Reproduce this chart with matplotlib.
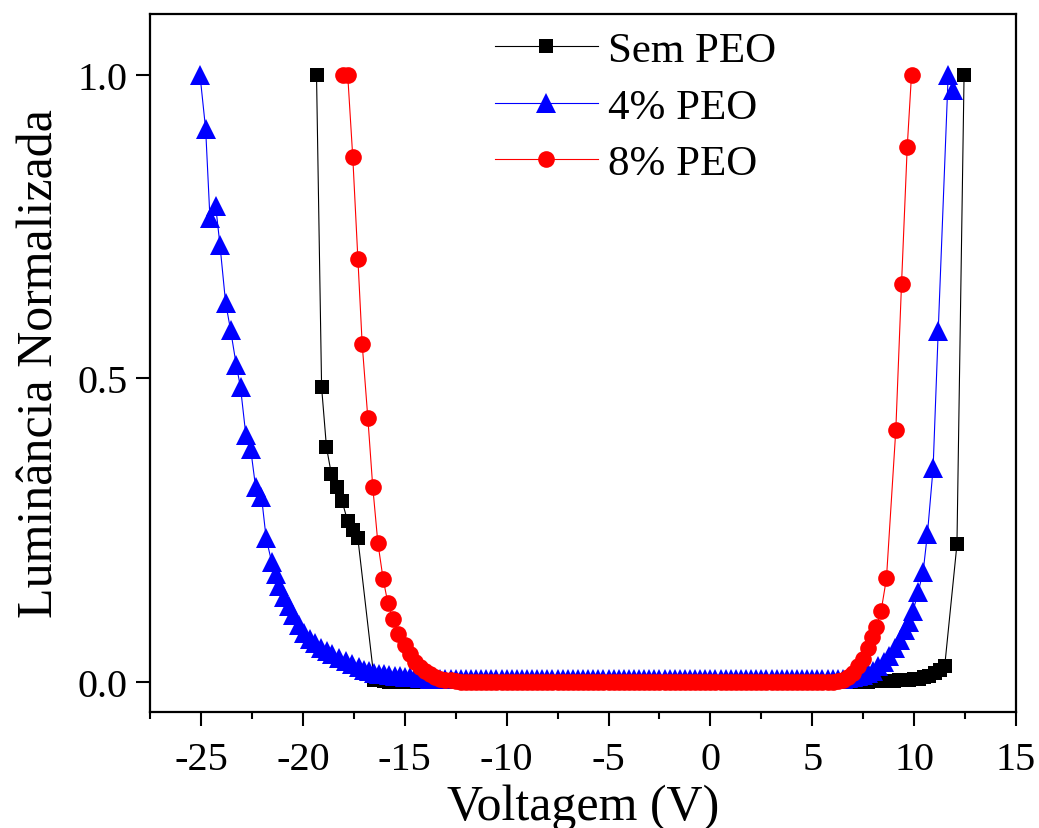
import matplotlib
matplotlib.use("Agg")
import matplotlib.pyplot as plt
from matplotlib.ticker import MultipleLocator, FormatStrFormatter

plt.rcParams['font.family'] = ['Liberation Serif', 'DejaVu Serif']
plt.rcParams['axes.unicode_minus'] = False

# Shared voltage sweep grid (V) used for the low-luminance plateau of every curve
sweep_v = [
    -17.0, -16.75, -16.5, -16.25, -16.0, -15.75, -15.5, -15.25, -15.0, -14.75,
    -14.5, -14.25, -14.0, -13.75, -13.5, -13.25, -13.0, -12.75, -12.5, -12.25,
    -12.0, -11.75, -11.5, -11.25, -11.0, -10.75, -10.5, -10.25, -10.0, -9.75,
    -9.5, -9.25, -9.0, -8.75, -8.5, -8.25, -8.0, -7.75, -7.5, -7.25,
    -7.0, -6.75, -6.5, -6.25, -6.0, -5.75, -5.5, -5.25, -5.0, -4.75,
    -4.5, -4.25, -4.0, -3.75, -3.5, -3.25, -3.0, -2.75, -2.5, -2.25,
    -2.0, -1.75, -1.5, -1.25, -1.0, -0.75, -0.5, -0.25, 0.0, 0.25,
    0.5, 0.75, 1.0, 1.25, 1.5, 1.75, 2.0, 2.25, 2.5, 2.75,
    3.0, 3.25, 3.5, 3.75, 4.0, 4.25, 4.5, 4.75, 5.0, 5.25,
    5.5, 5.75, 6.0, 6.25, 6.5, 6.75, 7.0, 7.25, 7.5, 7.75,
    8.0, 8.25, 8.5, 8.75, 9.0, 9.25, 9.5, 9.75, 10.0, 10.25,
    10.5, 10.75, 11.0, 11.25, 11.5,
]

# ---- Sem PEO -------------------------------------------------------------
sem_left_v = [-19.33, -19.08, -18.84, -18.60, -18.32, -18.07, -17.80, -17.55, -17.30]
sem_left_l = [1.0, 0.485, 0.386, 0.342, 0.321, 0.297, 0.264, 0.250, 0.236]
# plateau on sweep_v[2:115]  (-16.5 V ... 11.5 V)
sem_mid_l = [
    0.003, 0.002, 0.001,
    0.0, 0.0, 0.0, 0.0, 0.0, 0.0, 0.0, 0.0, 0.0, 0.0,
    0.0, 0.0, 0.0, 0.0, 0.0, 0.0, 0.0, 0.0, 0.0, 0.0,
    0.0, 0.0, 0.0, 0.0, 0.0, 0.0, 0.0, 0.0, 0.0, 0.0,
    0.0, 0.0, 0.0, 0.0, 0.0, 0.0, 0.0, 0.0, 0.0, 0.0,
    0.0, 0.0, 0.0, 0.0, 0.0, 0.0, 0.0, 0.0, 0.0, 0.0,
    0.0, 0.0, 0.0, 0.0, 0.0, 0.0, 0.0, 0.0, 0.0, 0.0,
    0.0, 0.0, 0.0, 0.0, 0.0, 0.0, 0.0, 0.0, 0.0, 0.0,
    0.0, 0.0, 0.0, 0.0, 0.0, 0.0, 0.0, 0.0, 0.0, 0.0,
    0.0, 0.0, 0.0, 0.0, 0.0, 0.0, 0.0,
    0.0, 0.0, 0.0, 0.0, 0.0, 0.0, 0.0, 0.0,
    0.001, 0.001, 0.001, 0.001, 0.001, 0.002, 0.002, 0.003,
    0.004, 0.005, 0.007, 0.010, 0.014, 0.020, 0.026,
]
sem_right_v = [12.10, 12.45]
sem_right_l = [0.226, 1.0]

# ---- 4% PEO --------------------------------------------------------------
peo4_left_v = [-25.05, -24.77, -24.56, -24.28, -24.07, -23.79, -23.55, -23.27,
               -23.06, -22.80, -22.56, -22.32, -22.03, -21.80, -21.53, -21.34,
               -21.18, -20.93, -20.69, -20.49, -20.20, -19.95, -19.67, -19.38,
               -19.13, -18.80, -18.56, -18.24, -17.90, -17.58, -17.25]
peo4_left_l = [1.0, 0.91, 0.764, 0.784, 0.72, 0.624, 0.58, 0.522,
               0.485, 0.407, 0.383, 0.321, 0.305, 0.236, 0.197, 0.178,
               0.158, 0.140, 0.124, 0.110, 0.094, 0.081, 0.071, 0.063,
               0.056, 0.050, 0.045, 0.039, 0.034, 0.029, 0.024]
# plateau on sweep_v[0:101]  (-17.0 V ... 8.0 V)
peo4_mid_l = [
    0.020, 0.017, 0.015, 0.013, 0.012, 0.011, 0.010, 0.009, 0.008, 0.007,
    0.007, 0.006, 0.006, 0.005, 0.005, 0.005,
    0.004, 0.004, 0.004, 0.004, 0.004, 0.004, 0.004, 0.004, 0.004, 0.004,
    0.004, 0.004, 0.004, 0.004, 0.004, 0.004, 0.004, 0.004, 0.004, 0.004,
    0.004, 0.004, 0.004, 0.004, 0.004, 0.004, 0.004, 0.004, 0.004, 0.004,
    0.004, 0.004, 0.004, 0.004, 0.004, 0.004, 0.004, 0.004, 0.004, 0.004,
    0.004, 0.004, 0.004, 0.004, 0.004, 0.004, 0.004, 0.004, 0.004, 0.004,
    0.004, 0.004, 0.004, 0.004, 0.004, 0.004, 0.004, 0.004, 0.004, 0.004,
    0.004, 0.004, 0.004, 0.004, 0.004, 0.004, 0.004, 0.004, 0.004, 0.004,
    0.004, 0.004, 0.004, 0.004, 0.004, 0.004, 0.004, 0.004,
    0.005, 0.006, 0.007, 0.009, 0.011, 0.014, 0.018,
]
peo4_right_v = [8.25, 8.50, 8.75, 9.05, 9.30, 9.54, 9.74, 9.95, 10.20, 10.44,
                10.65, 10.93, 11.18, 11.67, 11.91]
peo4_right_l = [0.025, 0.033, 0.042, 0.056, 0.068, 0.085, 0.099, 0.117, 0.148, 0.181,
                0.243, 0.352, 0.577, 1.0, 0.975]

# ---- 8% PEO --------------------------------------------------------------
peo8_left_v = [-18.05, -17.80, -17.55, -17.30, -17.09, -16.81, -16.57, -16.32,
               -16.06, -15.83, -15.57, -15.33]
peo8_left_l = [1.0, 1.0, 0.864, 0.697, 0.557, 0.434, 0.321, 0.229,
               0.169, 0.130, 0.103, 0.079]
# plateau on sweep_v[8:100]  (-15.0 V ... 7.75 V)
peo8_mid_l = [
    0.060, 0.045, 0.033, 0.024, 0.017, 0.012, 0.008, 0.005, 0.003, 0.002, 0.001,
    0.0, 0.0, 0.0, 0.0, 0.0, 0.0, 0.0, 0.0, 0.0, 0.0,
    0.0, 0.0, 0.0, 0.0, 0.0, 0.0, 0.0, 0.0, 0.0, 0.0,
    0.0, 0.0, 0.0, 0.0, 0.0, 0.0, 0.0, 0.0, 0.0, 0.0,
    0.0, 0.0, 0.0, 0.0, 0.0, 0.0, 0.0, 0.0, 0.0, 0.0,
    0.0, 0.0, 0.0, 0.0, 0.0, 0.0, 0.0, 0.0, 0.0, 0.0,
    0.0, 0.0, 0.0, 0.0, 0.0, 0.0, 0.0, 0.0, 0.0, 0.0,
    0.0, 0.0, 0.0, 0.0, 0.0, 0.0, 0.0, 0.0, 0.0, 0.0,
    0.0, 0.0, 0.0, 0.0,
    0.001, 0.003, 0.008, 0.015, 0.025, 0.038, 0.055,
]
peo8_right_v = [7.95, 8.15, 8.38, 8.64, 9.10, 9.38, 9.66, 9.87]
peo8_right_l = [0.074, 0.090, 0.117, 0.170, 0.415, 0.655, 0.881, 1.0]

labels = ['Sem PEO', '4% PEO', '8% PEO']
colors = ['#000000', '#0000ff', '#ff0000']
markers = ['s', '^', 'o']
marker_sizes = [10.5, 14, 12]

sem_v = sem_left_v + sweep_v[2:115] + sem_right_v
sem_l = sem_left_l + sem_mid_l + sem_right_l
peo4_v = peo4_left_v + sweep_v[0:101] + peo4_right_v
peo4_l = peo4_left_l + peo4_mid_l + peo4_right_l
peo8_v = peo8_left_v + sweep_v[8:100] + peo8_right_v
peo8_l = peo8_left_l + peo8_mid_l + peo8_right_l

fig = plt.figure(figsize=(10.39, 8.29), dpi=100)
ax = fig.add_axes([0.1444, 0.1399, 0.8335, 0.8420])

for v, l, lab, c, m, ms in zip([sem_v, peo4_v, peo8_v], [sem_l, peo4_l, peo8_l],
                               labels, colors, markers, marker_sizes):
    ax.plot(v, l, color=c, marker=m, markersize=ms, markerfacecolor=c,
            markeredgecolor=c, markeredgewidth=0, linewidth=0.8, label=lab)

ax.set_xlim(-27.5, 15)
ax.set_ylim(-0.05, 1.1)
ax.xaxis.set_major_locator(MultipleLocator(5))
ax.xaxis.set_minor_locator(MultipleLocator(2.5))
ax.yaxis.set_major_locator(MultipleLocator(0.5))
ax.yaxis.set_major_formatter(FormatStrFormatter('%.1f'))

for side in ['left', 'right', 'top', 'bottom']:
    ax.spines[side].set_linewidth(1.6)
ax.tick_params(axis='both', which='major', direction='out', length=10, width=1.5,
               labelsize=29, top=False, right=False)
ax.tick_params(axis='x', which='minor', direction='out', length=5, width=1.5, top=False)
ax.tick_params(axis='x', which='major', pad=11)
ax.tick_params(axis='y', which='major', pad=6)

ax.set_xlabel('Voltagem (V)', fontsize=36, labelpad=4)
ax.set_ylabel('Luminância Normalizada', fontsize=36, labelpad=10)

ax.legend(loc='upper left', bbox_to_anchor=(0.398, 0.976), frameon=False,
          fontsize=31, handlelength=2.4, handletextpad=0.22, labelspacing=0.41,
          borderpad=0, borderaxespad=0, numpoints=1)

fig.savefig('out.png', dpi=100)
